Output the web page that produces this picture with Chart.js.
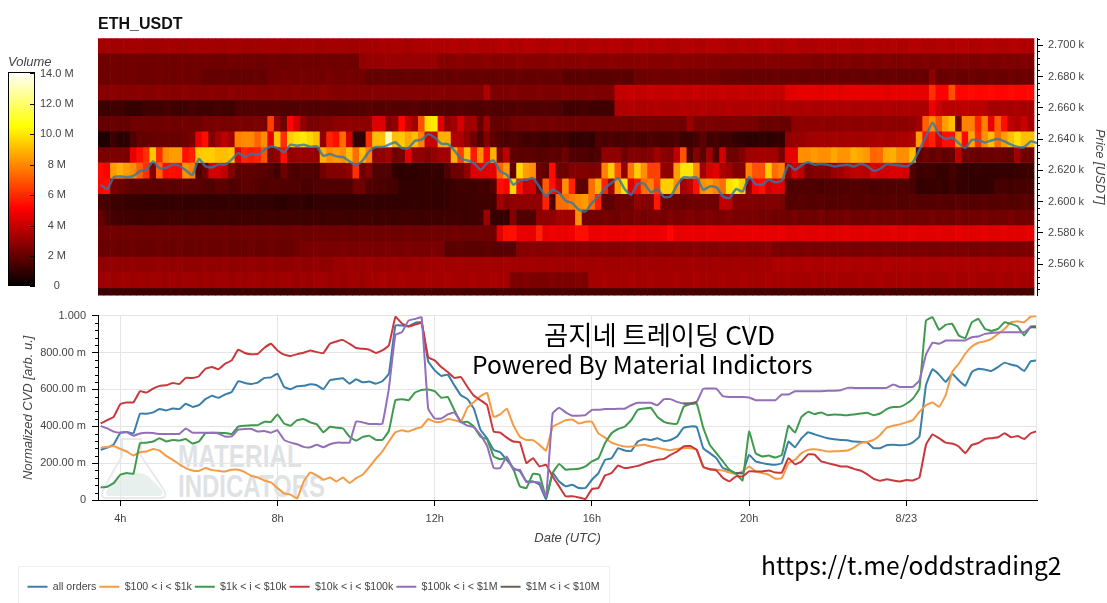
<!DOCTYPE html>
<html>
<head>
<meta charset="utf-8">
<title>ETH_USDT</title>
<script src="https://cdn.jsdelivr.net/npm/chart.js@4"></script>
<style>
html, body { margin: 0; padding: 0; background: #fff; }
#page { position: relative; width: 1107px; height: 603px; overflow: hidden; font-family: 'Liberation Sans', sans-serif; }
canvas { position: absolute; }
.note { position: absolute; white-space: nowrap; color: #000; font-family: 'Noto Sans CJK KR', 'Noto Sans', sans-serif; line-height: 1; }
.mark { position: absolute; white-space: nowrap; color: #dfe2e5; font: bold 32px 'Liberation Sans', sans-serif; line-height: 1; transform-origin: left top; transform: scaleX(0.76); }
#legendBox { position: absolute; left: 18px; top: 566px; width: 592px; height: 60px; border: 1px solid #eeeeee; box-sizing: border-box; }
</style>
</head>
<body>
<div id="page">
  <div id="legendBox"></div>
  <svg style="position:absolute;left:98px;top:436px" width="72" height="66">
    <path d="M6 62 Q2 60 6 52 L24 20 L24 3 L43 3 L43 20 L66 54 Q70 62 62 62 Z" fill="none" stroke="#e8eaec" stroke-width="2"/>
    <path d="M10 60 Q6 58 10 52 L20 40 Q34 32 50 40 L64 54 Q66 60 60 60 Z" fill="#e8f0ed"/>
  </svg>
  <div class="mark" style="left:178px;top:440px">MATERIAL</div>
  <div class="mark" style="left:178px;top:470px;transform:scaleX(0.75)">INDICATORS</div>
  <canvas id="volumeBar" width="90" height="246" style="left:1px;top:52px"></canvas>
  <canvas id="heatChart" width="1107" height="307" style="left:0;top:0"></canvas>
  <canvas id="cvdChart" width="1107" height="300" style="left:0;top:303px"></canvas>
  <div class="note" style="left:544px;top:321px;font-size:26.3px">곰지네 트레이딩 CVD</div>
  <div class="note" style="left:472px;top:351px;font-size:24.6px">Powered By Material Indictors</div>
  <div class="note" style="left:761px;top:552px;font-size:24.6px">https://t.me/oddstrading2</div>
</div>
<script>
// volume per price level, one value per 10 minute bin, in units of 0.1 M
const row2700 = [
33,33,32,32,33,33,33,32,32,32,33,33,32,32,33,33,33,33,32,32,33,33,32,32,32,33,33,33,32,32,33,33,33,32,32,33,
33,33,32,32,33,33,33,34,33,34,34,33,34,34,35,35,35,35,36,35,35,36,35,35,35,36,36,35,35,36,36,35,35,36,36,35,
36,35,35,36,36,35,36,36,35,35,36,36,35,36,36,35,35,36,36,35,35,36,36,36,35,35,36,35,35,36,36,35,35,36,36,35,
35,35,36,36,35,36,36,35,35,36,36,35,35,36,35,35,36,36,35,35,36,36,35,36,36,35,35,36,36,35,35,36,36,35,35];
const row2690 = [
22,22,23,22,22,23,22,22,22,23,22,22,23,22,22,22,23,22,22,22,23,22,22,23,22,22,23,22,22,22,23,22,22,22,23,22,
22,23,22,22,29,30,30,30,31,30,30,30,31,30,30,30,27,27,27,28,27,27,27,28,27,27,27,27,28,27,27,27,27,28,27,27,
27,27,28,27,27,27,28,27,27,27,27,28,27,27,27,27,28,27,27,27,27,27,26,26,26,27,26,26,26,26,27,26,26,26,26,26,
26,25,25,26,25,25,26,25,25,26,25,25,26,25,25,26,25,25,26,25,25,26,25,25,26,25,25,26,25,25,26,25,25,26,25];
const row2680 = [
22,22,23,22,22,23,22,22,22,23,22,22,23,22,22,22,20,20,20,21,20,20,20,20,21,20,23,23,24,23,23,24,23,23,23,24,
23,23,24,23,23,20,20,21,20,20,20,21,20,20,21,20,20,20,21,20,20,20,21,20,20,21,20,20,21,20,20,21,20,20,21,18,
18,18,19,18,18,18,18,19,18,18,22,22,22,23,22,22,22,23,22,22,22,23,22,21,21,21,20,20,21,20,20,21,20,20,21,20,
20,21,20,20,21,20,20,21,20,20,21,20,20,21,20,20,20,21,20,28,21,21,22,21,21,22,21,21,22,21,21,22,21,22,21];
const row2670 = [
27,27,28,27,27,27,28,27,27,28,27,27,27,28,27,27,27,28,27,27,28,27,27,28,27,27,27,28,27,27,28,27,27,27,28,27,
26,26,27,26,26,26,27,26,26,27,26,26,26,27,26,26,27,26,26,26,27,26,26,35,25,25,25,26,25,25,25,26,25,25,25,26,
25,25,25,26,25,25,25,39,39,40,39,39,40,39,39,39,40,39,39,40,39,39,39,40,39,39,40,39,39,39,40,39,39,45,45,46,
46,46,45,46,46,45,46,46,47,46,46,46,45,46,46,46,46,46,46,61,51,51,68,52,52,53,52,52,53,52,52,53,52,52,53];
const row2660 = [
12,12,13,13,11,11,11,13,13,13,14,13,13,13,14,13,13,13,14,13,13,16,16,17,16,16,16,17,16,16,16,17,16,16,17,16,
16,16,17,17,17,18,17,17,18,17,17,17,18,16,16,17,16,16,16,17,16,16,16,17,16,16,16,16,17,16,16,16,17,16,16,13,
13,13,14,13,13,13,13,35,35,36,35,35,35,36,35,35,35,36,35,35,36,35,35,35,36,35,35,35,36,35,35,34,34,35,34,34,
35,34,34,35,34,34,35,34,34,35,34,34,35,34,34,35,34,34,34,48,40,37,37,37,38,37,37,37,33,33,34,33,34,33,33];
const row2650 = [
20,20,21,20,20,22,22,23,22,22,23,22,22,23,22,22,24,24,25,24,24,25,24,24,25,24,64,29,22,52,42,29,24,24,26,26,
28,28,29,28,28,28,44,44,26,29,52,38,32,68,98,100,45,29,32,42,32,32,20,32,20,20,20,23,23,23,24,23,23,24,23,23,
22,23,22,23,23,22,23,23,23,22,23,23,23,22,23,23,23,22,31,24,24,25,24,24,24,25,24,24,24,21,21,22,21,21,28,29,
28,28,29,28,28,28,29,28,28,29,28,28,29,28,28,28,29,32,71,81,68,84,91,22,78,78,58,78,47,71,54,38,35,40,33];
const row2640 = [
6,6,12,8,9,16,20,20,20,21,21,21,21,22,24,46,54,26,33,38,32,78,80,80,72,81,45,91,61,94,98,100,96,91,29,58,
54,74,42,10,10,61,91,91,130,91,93,86,91,78,40,40,88,88,35,35,29,22,16,26,19,16,14,16,15,13,14,13,12,14,13,13,
10,10,11,10,16,15,16,14,15,16,15,14,16,15,14,15,16,12,12,14,19,13,15,12,13,10,10,9,9,10,9,10,10,29,30,30,
32,32,33,32,33,32,33,33,32,33,33,34,33,33,34,34,35,84,54,58,42,54,54,84,52,86,61,81,91,74,84,91,98,91,91];
const row2630 = [
24,24,25,25,24,46,54,61,93,60,81,84,84,54,58,93,94,94,91,91,93,45,58,56,58,68,26,29,54,30,31,31,30,30,88,81,
84,81,91,74,91,78,29,29,32,22,24,46,29,29,26,29,32,32,88,64,91,56,81,53,88,26,38,19,18,19,18,17,18,19,18,22,
16,16,16,15,16,29,29,29,22,26,26,25,26,32,28,26,38,68,16,26,19,32,16,42,22,22,26,32,32,33,32,32,24,46,46,81,
81,83,81,81,86,82,82,88,86,83,72,74,86,88,81,81,91,19,22,20,22,19,21,38,22,22,20,22,21,22,21,20,32,22,22];
const row2620 = [
53,51,84,88,84,81,71,61,26,72,53,54,53,82,78,16,22,42,42,38,26,19,19,19,18,18,16,13,22,16,15,16,16,15,22,26,
26,26,29,61,22,26,16,16,16,10,9,10,9,10,10,11,10,16,22,22,29,44,45,45,46,72,84,19,96,84,81,22,19,53,22,22,
26,26,26,25,26,78,94,68,29,76,94,81,64,65,29,29,84,99,99,81,32,42,45,35,32,26,26,78,68,68,94,74,78,29,42,38,
24,26,26,26,30,32,35,38,38,36,44,42,42,44,44,42,16,12,13,13,11,11,14,11,10,10,11,10,10,10,11,10,11,12,12];
const row2610 = [
52,54,24,22,20,19,19,19,19,18,19,18,18,19,18,18,17,16,19,18,16,17,19,18,17,16,17,17,16,16,16,15,15,16,16,16,
16,16,16,22,22,16,16,15,14,14,10,10,10,10,11,10,10,11,12,13,13,13,14,13,16,54,51,96,54,40,42,22,70,54,38,81,
58,19,19,74,88,58,32,84,99,45,54,74,78,64,94,94,81,32,38,54,81,84,78,74,98,101,94,29,51,54,42,45,45,16,16,16,
16,16,15,16,16,16,16,17,16,16,15,16,16,16,16,16,15,10,11,11,12,10,13,10,11,10,10,10,11,14,14,13,14,14,14];
const row2600 = [
15,14,12,12,11,11,11,10,10,11,10,10,11,10,10,10,11,10,10,10,11,10,10,10,10,10,10,9,9,10,10,10,9,10,10,10,
10,10,10,10,10,11,10,10,10,10,10,10,11,10,11,10,10,11,12,12,12,13,13,13,13,32,26,29,29,29,29,29,58,16,74,74,
78,81,84,74,58,19,19,22,22,22,29,26,26,56,22,22,22,21,22,22,22,22,22,38,38,26,26,26,26,25,26,26,25,17,17,18,
17,17,18,17,17,17,18,17,17,18,17,17,17,18,17,17,18,17,17,17,18,17,17,18,17,17,17,18,17,17,18,17,17,18,17];
const row2590 = [
20,16,14,13,13,13,12,13,13,12,13,13,13,12,13,13,13,12,13,13,12,13,13,13,12,13,13,12,13,13,13,12,13,13,12,13,
13,13,12,13,13,13,12,13,13,12,13,13,13,12,13,13,12,13,13,13,12,13,13,32,11,11,11,26,16,16,16,29,29,29,32,32,
32,81,22,23,22,24,23,22,24,23,25,23,24,25,23,26,24,25,26,24,25,26,24,25,26,24,25,24,25,23,24,22,23,22,24,22,
23,22,24,22,23,22,24,22,23,22,24,22,23,22,24,22,22,23,22,24,22,23,22,24,22,23,22,24,22,23,22,24,22,23,22];
const row2580 = [
22,22,23,22,22,23,22,22,22,23,22,22,23,22,22,22,23,22,22,23,22,22,22,23,22,22,23,22,22,22,23,22,22,23,22,22,
22,23,22,22,23,22,22,22,23,22,22,23,22,22,22,23,22,22,23,22,22,22,23,22,22,45,54,54,47,47,46,58,46,48,47,47,
48,54,54,47,47,48,47,47,47,48,47,47,47,47,48,52,46,46,47,46,46,47,46,46,46,47,46,46,47,46,46,46,47,45,45,46,
45,45,46,45,45,45,46,45,45,46,45,45,45,46,45,45,46,45,45,45,46,45,45,46,45,45,45,46,45,45,46,45,45,45,46];
const row2570 = [
21,21,22,21,21,22,21,21,21,22,21,21,22,21,21,21,22,21,21,22,21,21,21,22,21,21,22,21,21,21,22,24,24,25,24,24,
24,25,24,24,25,24,24,24,25,24,24,25,24,24,24,25,24,18,18,19,18,18,18,19,18,18,18,18,27,27,28,27,27,27,28,27,
27,27,28,27,27,28,27,27,27,28,27,27,28,27,27,27,28,27,27,28,27,27,27,28,27,27,28,27,27,27,28,25,24,25,24,24,
25,24,24,25,24,24,25,24,24,25,24,24,25,24,24,25,24,24,25,24,24,25,24,24,25,24,24,25,24,24,25,24,24,25,24];
const row2560 = [
29,29,30,29,29,30,29,29,29,30,29,29,30,29,29,29,30,29,29,30,29,29,29,30,29,29,30,29,29,29,30,29,29,30,29,29,
31,31,32,31,31,32,31,31,31,32,31,31,32,31,32,32,33,32,32,33,32,32,32,33,32,32,33,32,32,32,33,32,32,33,32,32,
32,33,32,32,33,32,32,32,33,32,32,33,32,32,32,33,32,32,33,32,32,32,33,32,32,33,32,32,32,33,32,34,34,35,34,34,
35,34,34,35,34,34,35,34,34,35,34,34,35,34,34,35,34,34,35,34,34,35,34,34,35,34,34,35,34,34,35,34,34,35,34];
const row2550 = [
31,32,31,32,32,31,32,31,32,32,31,32,31,32,32,31,32,31,32,32,31,32,31,32,32,31,32,31,32,32,31,32,31,32,32,31,
32,31,32,32,31,33,33,34,33,33,34,33,33,33,34,33,33,34,33,33,33,34,33,33,34,33,33,25,25,26,25,25,25,26,25,25,
25,26,25,33,33,34,33,33,33,34,33,33,34,33,33,33,34,33,33,34,33,33,33,34,33,33,34,33,33,33,34,33,33,34,33,33,
33,34,33,33,34,33,33,33,34,33,33,34,33,33,33,34,33,33,34,33,33,33,34,33,33,34,33,33,33,34,33,33,34,33,33];
const row2540 = [
12,12,13,12,12,13,12,12,12,13,12,12,13,12,12,12,13,12,12,13,12,12,12,13,12,12,13,12,12,12,13,12,12,13,12,12,
13,13,14,13,14,14,14,15,14,15,15,15,14,15,15,15,14,15,15,15,14,15,15,15,14,15,15,15,14,15,15,15,14,15,15,15,
15,14,15,15,15,14,15,15,15,14,15,15,15,14,15,15,14,14,15,14,14,15,14,14,15,14,14,15,14,14,15,14,14,15,14,14,
15,14,14,15,14,14,15,14,14,15,14,14,15,14,14,15,14,14,15,14,14,15,14,14,15,14,14,15,14,14,15,14,14,15,14];

const priceLevels = [2700,2690,2680,2670,2660,2650,2640,2630,2620,2610,2600,2590,2580,2570,2560,2550,2540];
const heatRows = [row2700,row2690,row2680,row2670,row2660,row2650,row2640,row2630,row2620,row2610,row2600,row2590,row2580,row2570,row2560,row2550,row2540];

// price in USDT, sampled every 10 minutes from 3:30
const price = [
2610.8,2608,2615.7,2616.1,2615.7,2616.5,2619.5,2620.4,2625.7,2621.4,2621.6,2623.6,2622.9,2620,2617,2627.2,2622.5,2621.9,2623.8,2623.6,2626.8,2631,2628.5,2630.6,2630,2633.2,2635.3,2634.2,2631.5,2636.4,2635.7,2636.4,2635.1,2635.3,2629.3,2630.4,
2628.9,2628.5,2625.7,2623.2,2626.3,2632.1,2634.9,2634.9,2636.4,2637.9,2634.2,2634.2,2638.9,2639.6,2643,2641,2637,2636.8,2632.7,2627.4,2626.3,2624.6,2620.4,2624.6,2626.3,2619.3,2617.2,2610.8,2613.6,2614,2615,2609.3,2603.3,2607.6,2605.5,2600.6,
2599.1,2594.8,2593.7,2599.1,2603.3,2608.6,2611.9,2615,2608,2604.4,2611.4,2611.4,2605.9,2608,2602.9,2603.3,2610.6,2615.5,2615.3,2615.5,2607.6,2609.7,2609.1,2603.3,2602.3,2608,2606.5,2615.7,2611.2,2610.8,2614,2612.3,2613.6,2623.6,2620.4,2623.2,
2625.1,2623.6,2624,2623.6,2622.5,2623.1,2623.6,2622.5,2624,2622.9,2619.7,2621,2624,2623.6,2623.1,2622.5,2625.1,2633.2,2641.7,2650.5,2642.7,2640,2641,2637.4,2634.2,2639.5,2639.1,2637.8,2639.1,2640,2638.5,2636.4,2634.9,2634.9,2638.5,2637.4];

// normalized CVD in thousandths, same sampling as the price
const allOrders = [
272,284,302,365,369,361,468,468,475,493,486,496,493,522,505,514,547,565,554,572,586,644,635,629,637,662,665,685,613,601,617,619,628,622,601,649,656,660,631,655,638,642,
631,644,685,946,946,942,960,964,752,703,673,680,622,568,547,493,380,335,272,259,218,173,155,101,101,83,5,146,100,74,83,65,65,110,146,218,227,281,268,266,317,331,325,335,320,325,344,392,399,396,281,254,227,173,160,146,
146,245,209,200,194,191,200,317,286,335,367,356,345,335,329,326,324,317,315,313,281,281,297,299,297,299,313,344,622,709,680,640,685,649,619,694,712,707,700,721,745,734,725,700,752,757];
const orders100to1k = [
284,288,293,277,263,241,259,263,277,268,239,218,194,173,160,158,173,162,158,155,164,164,151,131,122,106,95,65,36,29,7,101,149,133,110,122,101,122,92,119,137,178,
223,263,317,367,378,371,385,396,439,424,424,439,433,424,500,532,563,581,451,464,496,406,343,325,325,299,268,397,415,433,437,415,424,424,361,338,311,299,290,290,295,299,290,284,275,270,277,281,281,272,176,167,164,160,149,142,
155,182,155,146,137,115,119,200,218,254,272,275,270,263,264,266,268,284,308,315,326,353,392,403,410,421,433,478,514,529,505,568,694,739,793,833,853,861,874,901,928,964,969,964,995,996];
const orders1kto10k = [
68,72,92,137,146,142,308,311,317,335,317,326,322,331,306,317,362,365,365,363,358,398,403,406,406,424,424,464,415,403,433,439,421,410,367,397,392,388,343,322,342,349,
326,326,375,541,547,541,583,597,599,590,554,559,487,421,424,397,343,329,236,221,227,169,74,65,142,137,14,146,196,164,167,169,182,209,227,308,362,385,397,433,489,496,500,451,424,415,414,505,520,522,392,299,254,209,164,142,
106,371,254,236,241,230,245,403,365,451,478,466,475,460,464,462,459,464,469,473,460,469,493,504,505,522,550,604,973,991,923,950,955,892,878,964,982,928,917,928,964,955,941,892,942,942];
const orders10kto100k = [
415,433,451,520,529,529,590,583,604,619,622,635,629,662,662,671,712,721,709,739,757,815,797,790,793,826,847,811,788,781,791,799,811,802,797,847,860,867,847,824,820,815,
797,811,838,993,957,941,951,960,775,757,721,694,662,667,613,565,541,514,371,365,338,317,313,200,227,182,191,128,74,20,20,14,5,59,65,133,146,187,173,178,185,198,209,218,223,245,263,290,293,272,182,167,160,119,101,128,
128,155,155,155,160,149,149,227,194,209,248,246,209,200,191,182,182,169,160,140,115,104,112,106,101,108,106,122,299,356,335,311,306,290,254,299,309,331,335,340,362,340,347,331,362,374];
const orders100kto1m = [
401,388,371,365,367,349,361,365,363,358,358,358,358,388,365,365,365,365,361,344,345,381,385,385,371,374,365,378,326,311,302,288,286,299,286,302,311,311,311,426,421,412,
412,412,604,896,910,973,982,991,496,442,442,464,475,424,403,394,353,293,173,173,236,164,164,97,97,95,20,469,500,475,457,457,460,489,489,493,493,495,495,514,527,527,527,514,547,547,532,523,523,532,604,604,604,563,559,559,
559,556,541,541,541,541,572,572,590,590,590,590,590,592,592,595,608,608,608,608,608,608,608,626,613,613,613,649,788,853,847,865,865,865,865,883,887,901,906,908,910,910,910,910,937,937];
// only a few stretches of this one are visible, null breaks the line
const orders1mto10mHours = [18.33,18.5,18.67,18.83,19.67,19.83,20,27.17,27.33];
const orders1mto10m = [523,523,532,null,146,146,null,937,937];

const seriesNames = ['all orders','$100 < i < $1k','$1k < i < $10k','$10k < i < $100k','$100k < i < $1M','$1M < i < $10M'];
const seriesColors = ['#3a7eaa','#f59a45','#3f9a4d','#c8383c','#946fb9','#6f5f5a'];
const seriesValues = [allOrders,orders100to1k,orders1kto10k,orders10kto100k,orders100kto1m];

const volumeTicks = {0:'0',2:'2 M',4:'4 M',6:'6 M',8:'8 M',10:'10.0 M',12:'12.0 M',14:'14.0 M'};
const cvdTicks = {0:'0',200:'200.00 m',400:'400.00 m',600:'600.00 m',800:'800.00 m',1000:'1.000'};

const binHours = price.map((p, i) => 3.5 + i / 6);
const hourMin = 3.4326, hourMax = 27.325;
const volumeTop = 14.09;

const tickFont = { family: 'Liberation Sans', size: 11 };
const titleFont = { family: 'Liberation Sans', size: 13, style: 'italic' };
const textColor = '#444444';

Chart.defaults.animation = false;
Chart.defaults.plugins.tooltip.enabled = false;
Chart.defaults.devicePixelRatio = 1;

// hot palette, black to red to yellow to white
function hotStops (t) {
    const r = Math.min(1, t / 0.365);
    const g = Math.max(0, Math.min(1, (t - 0.365) / 0.381));
    const b = Math.max(0, Math.min(1, (t - 0.746) / 0.254));
    return 'rgb(' + Math.round(r * 255) + ',' + Math.round(g * 255) + ',' + Math.round(b * 255) + ')';
}
function hotColor (v) {
    return hotStops(v / 140);
}

// the library has no minor ticks, so draw the short ones from the scale
const minorTicks = {
    id: 'minorTicks',
    afterDraw (chart, args, opts) {
        const s = chart.scales.y;
        const ctx = chart.ctx;
        const left = s.position === 'left';
        const x0 = left ? s.right : s.left;
        ctx.save();
        ctx.strokeStyle = '#000';
        ctx.lineWidth = 1;
        s.ticks.forEach(function (t) {
            const y = Math.round(s.getPixelForValue(t.value)) + 0.5;
            const major = t.value % opts.every === 0;
            if (major && !opts.inside) return;
            if (!major && opts.inside) return;
            const len = opts.inside ? -5 : 3;
            ctx.beginPath();
            ctx.moveTo(x0, y);
            ctx.lineTo(x0 + (left ? -len : len), y);
            ctx.stroke();
        });
        if (opts.frame) {
            const a = chart.chartArea;
            ctx.strokeStyle = opts.frame;
            ctx.beginPath();
            ctx.moveTo(Math.round(a.right) - 0.5, a.top);
            ctx.lineTo(Math.round(a.right) - 0.5, a.bottom);
            ctx.stroke();
        }
        ctx.restore();
    }
};

function hourLabel (v) {
    return v === 24 ? '8/23' : v + 'h';
}

// colour bar
new Chart(document.getElementById('volumeBar'), {
    type: 'bar',
    data: {
        labels: ['Volume'],
        datasets: [{
            data: [[0, volumeTop]],
            barPercentage: 1,
            categoryPercentage: 1,
            borderWidth: 1,
            borderColor: '#000',
            borderSkipped: false,
            inflateAmount: 0,
            backgroundColor: function (c) {
                const area = c.chart.chartArea;
                if (!area) return '#000';
                const g = c.chart.ctx.createLinearGradient(0, area.bottom, 0, area.top);
                [0, 0.1, 0.2, 0.3, 0.365, 0.5, 0.65, 0.746, 0.85, 1].forEach(t => g.addColorStop(t, hotStops(t)));
                return g;
            }
        }]
    },
    options: {
        responsive: false,
        layout: { padding: { left: 7, top: 3, bottom: 6 } },
        plugins: {
            legend: { display: false },
            title: {
                display: true, text: 'Volume', align: 'start', color: textColor,
                font: { family: 'Liberation Sans', size: 13, style: 'italic', weight: 'normal' },
                padding: { top: 0, bottom: 1.5 }
            },
            minorTicks: { every: 2, inside: true }
        },
        scales: {
            x: { display: false },
            y: {
                position: 'right', min: 0, max: volumeTop,
                border: { display: false },
                grid: { drawOnChartArea: false, drawTicks: false },
                afterFit: function (s) { s.width = 56; },
                ticks: {
                    stepSize: 2, color: textColor, font: tickFont, crossAlign: 'center', padding: 5,
                    includeBounds: false,
                    callback: v => volumeTicks[v]
                }
            }
        }
    },
    plugins: [minorTicks]
});

// heatmap and price line
const heatSets = priceLevels.map(function (level, r) {
    return {
        type: 'bar',
        order: 2,
        grouped: false,
        barPercentage: 1,
        categoryPercentage: 1,
        data: heatRows[r].map((v, i) => ({ x: binHours[i], y: [level - 5, level + 5] })),
        backgroundColor: heatRows[r].map(hotColor)
    };
});
heatSets.push({
    type: 'line',
    order: 1,
    label: 'Price',
    data: price.map((p, i) => ({ x: binHours[i], y: p })),
    borderColor: 'rgba(50,120,165,0.8)',
    borderWidth: 2.5,
    pointRadius: 0,
    tension: 0.2
});

new Chart(document.getElementById('heatChart'), {
    type: 'bar',
    data: { datasets: heatSets },
    options: {
        responsive: false,
        layout: { padding: { left: 98, bottom: 1 } },
        plugins: {
            legend: { display: false },
            title: {
                display: true, text: 'ETH_USDT', align: 'start', fullSize: false, color: '#111',
                font: { family: 'Liberation Sans', size: 16, weight: 'bold' },
                padding: { top: 15, bottom: 4 }
            },
            minorTicks: { every: 20 }
        },
        scales: {
            x: { type: 'linear', display: false, offset: false, min: hourMin, max: hourMax, grid: { offset: false } },
            y: {
                position: 'right', min: 2540, max: 2704.5,
                border: { color: '#000' },
                grid: {
                    drawOnChartArea: false, tickLength: 6,
                    tickColor: c => (c.tick.value % 20 === 0 && c.tick.value > 2540 ? '#000' : 'transparent')
                },
                afterFit: function (s) { s.width = 70; },
                title: { display: true, text: 'Price [USDT]', color: textColor, font: titleFont, padding: 0 },
                ticks: {
                    stepSize: 4, autoSkip: false, color: textColor, font: tickFont, padding: 5,
                    includeBounds: false,
                    callback: v => (v % 20 === 0 && v > 2540 ? (v / 1000).toFixed(3) + ' k' : '')
                }
            }
        }
    },
    plugins: [minorTicks]
});

// cumulative volume delta lines
const cvdSets = seriesValues.map(function (values, k) {
    return {
        label: seriesNames[k],
        order: 6 - k,
        data: values.map((v, i) => ({ x: binHours[i], y: v })),
        borderColor: seriesColors[k],
        backgroundColor: seriesColors[k],
        borderWidth: 2,
        pointRadius: 0,
        tension: 0.1
    };
});
cvdSets.push({
    label: seriesNames[5],
    order: 0,
    data: orders1mto10m.map((v, i) => ({ x: orders1mto10mHours[i], y: v })),
    borderColor: seriesColors[5],
    backgroundColor: seriesColors[5],
    borderWidth: 2,
    pointRadius: 0
});

new Chart(document.getElementById('cvdChart'), {
    type: 'line',
    data: { datasets: cvdSets },
    options: {
        responsive: false,
        layout: { padding: { left: 24.5, right: 70, top: 10, bottom: 1 } },
        plugins: {
            legend: {
                position: 'bottom', align: 'start',
                labels: {
                    boxWidth: 20, boxHeight: 0, padding: 3, color: textColor,
                    font: { family: 'Liberation Sans', size: 10.6 },
                    sort: (a, b) => a.datasetIndex - b.datasetIndex
                }
            },
            minorTicks: { every: 200, frame: '#e5e5e5' }
        },
        scales: {
            x: {
                type: 'linear', min: hourMin, max: hourMax,
                border: { color: '#000' },
                grid: { color: '#e5e5e5', tickColor: '#000', tickLength: 6 },
                afterFit: function (s) { s.height = 78.4; },
                title: { display: true, text: 'Date (UTC)', color: textColor, font: titleFont, padding: { top: 0, bottom: 32 } },
                ticks: {
                    stepSize: 4, autoSkip: false, maxRotation: 0, includeBounds: false,
                    color: textColor, font: tickFont, padding: 6,
                    callback: hourLabel
                }
            },
            y: {
                min: 0, max: 1000,
                border: { color: '#000' },
                grid: {
                    tickLength: 6,
                    color: c => (c.tick.value % 200 === 0 ? '#e5e5e5' : 'transparent'),
                    tickColor: c => (c.tick.value % 200 === 0 ? '#000' : 'transparent')
                },
                afterFit: function (s) { s.width = 73.5; },
                title: { display: true, text: 'Normalized CVD [arb. u.]', color: textColor, font: titleFont, padding: { top: -4, bottom: 0 } },
                ticks: {
                    stepSize: 40, autoSkip: false, color: textColor, font: tickFont, padding: 6,
                    callback: v => (cvdTicks[v] === undefined ? '' : cvdTicks[v])
                }
            }
        }
    },
    plugins: [minorTicks]
});
</script>
</body>
</html>
